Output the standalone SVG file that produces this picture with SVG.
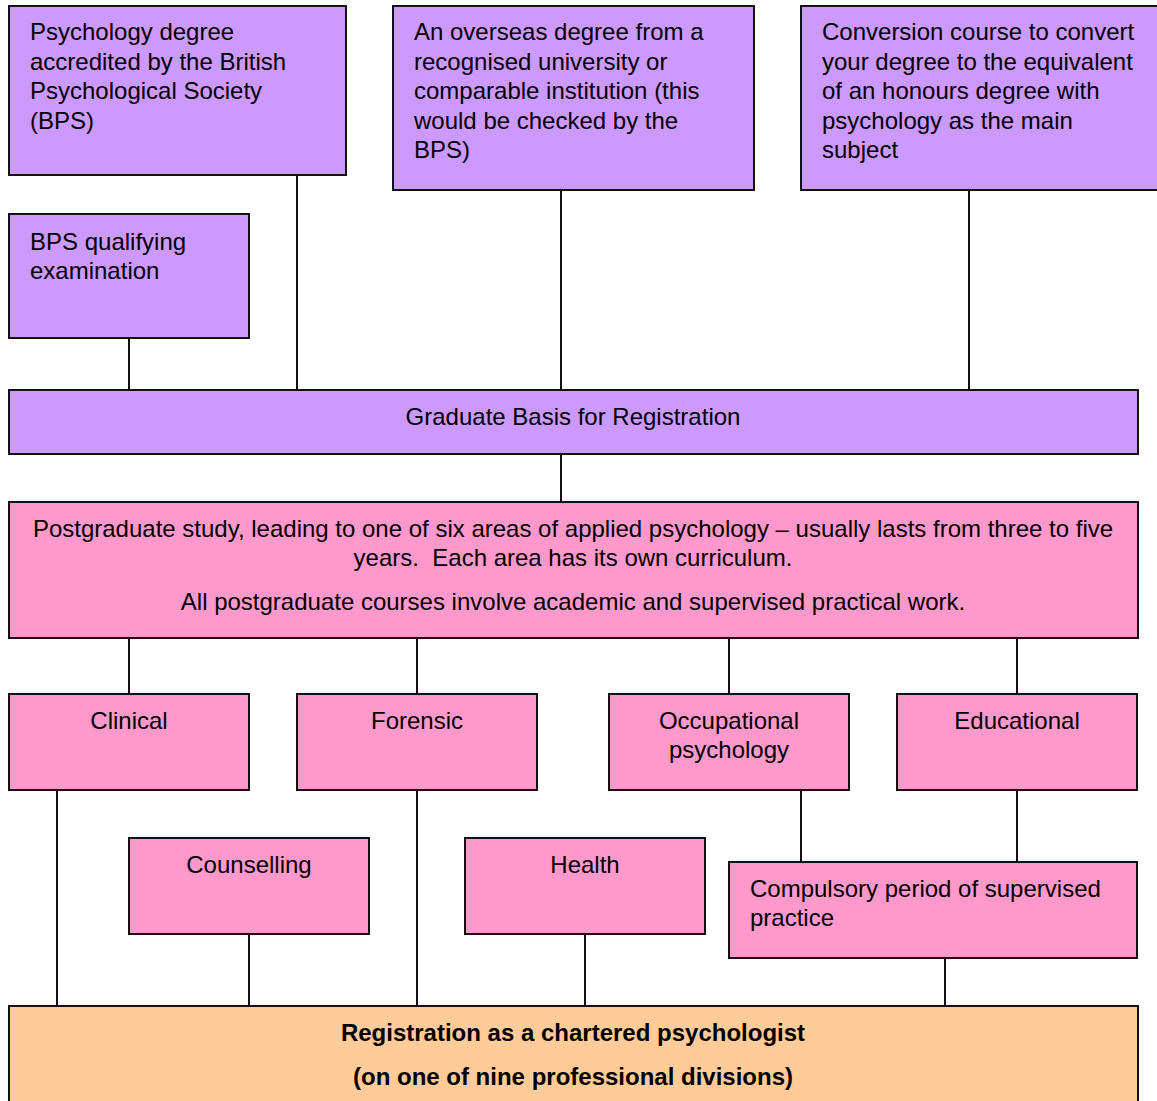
<svg xmlns="http://www.w3.org/2000/svg" width="1157" height="1101" viewBox="0 0 1157 1101">
<style>
rect{stroke:#111;stroke-width:2}
.p{fill:#CC99FF}
.k{fill:#FF99CC}
.o{fill:#FFCC99}
text{font-family:"Liberation Sans",Arial,sans-serif;font-size:24px;fill:#000}
.c{text-anchor:middle}
.b{font-weight:bold}
#connectors line{stroke:#111;stroke-width:2}
</style>
<rect width="1157" height="1101" fill="#fff" style="stroke:none"/>
<g id="connectors">
<line x1="129" y1="338" x2="129" y2="390"/>
<line x1="297" y1="175" x2="297" y2="390"/>
<line x1="561" y1="190" x2="561" y2="390"/>
<line x1="969" y1="190" x2="969" y2="390"/>
<line x1="561" y1="454" x2="561" y2="502"/>
<line x1="129" y1="638" x2="129" y2="694"/>
<line x1="417" y1="638" x2="417" y2="694"/>
<line x1="729" y1="638" x2="729" y2="694"/>
<line x1="1017" y1="638" x2="1017" y2="694"/>
<line x1="57" y1="790" x2="57" y2="1006"/>
<line x1="249" y1="934" x2="249" y2="1006"/>
<line x1="417" y1="790" x2="417" y2="1006"/>
<line x1="585" y1="934" x2="585" y2="1006"/>
<line x1="801" y1="790" x2="801" y2="862"/>
<line x1="1017" y1="790" x2="1017" y2="862"/>
<line x1="945" y1="958" x2="945" y2="1006"/>
</g>
<g id="n-psych-degree">
<rect class="p" x="9" y="6" width="337" height="169"/>
<text x="30" y="40">Psychology degree</text>
<text x="30" y="69.5">accredited by the British</text>
<text x="30" y="99">Psychological Society</text>
<text x="30" y="128.5">(BPS)</text>
</g>
<g id="n-overseas">
<rect class="p" x="393" y="6" width="361" height="184"/>
<text x="414" y="40">An overseas degree from a</text>
<text x="414" y="69.5">recognised university or</text>
<text x="414" y="99">comparable institution (this</text>
<text x="414" y="128.5">would be checked by the</text>
<text x="414" y="158">BPS)</text>
</g>
<g id="n-conversion">
<rect class="p" x="801" y="6" width="360" height="184"/>
<text x="822" y="40">Conversion course to convert</text>
<text x="822" y="69.5">your degree to the equivalent</text>
<text x="822" y="99">of an honours degree with</text>
<text x="822" y="128.5">psychology as the main</text>
<text x="822" y="158">subject</text>
</g>
<g id="n-bps-exam">
<rect class="p" x="9" y="214" width="240" height="124"/>
<text x="30" y="249.5">BPS qualifying</text>
<text x="30" y="278.5">examination</text>
</g>
<g id="n-gbr">
<rect class="p" x="9" y="390" width="1129" height="64"/>
<text class="c" x="573" y="425">Graduate Basis for Registration</text>
</g>
<g id="n-postgrad">
<rect class="k" x="9" y="502" width="1129" height="136"/>
<text class="c" x="573" y="537">Postgraduate study, leading to one of six areas of applied psychology – usually lasts from three to five</text>
<text class="c" x="573" y="566" xml:space="preserve">years.  Each area has its own curriculum.</text>
<text class="c" x="573" y="609.5">All postgraduate courses involve academic and supervised practical work.</text>
</g>
<g id="n-clinical">
<rect class="k" x="9" y="694" width="240" height="96"/>
<text class="c" x="129" y="729">Clinical</text>
</g>
<g id="n-forensic">
<rect class="k" x="297" y="694" width="240" height="96"/>
<text class="c" x="417" y="729">Forensic</text>
</g>
<g id="n-occupational">
<rect class="k" x="609" y="694" width="240" height="96"/>
<text class="c" x="729" y="729">Occupational</text>
<text class="c" x="729" y="758">psychology</text>
</g>
<g id="n-educational">
<rect class="k" x="897" y="694" width="240" height="96"/>
<text class="c" x="1017" y="729">Educational</text>
</g>
<g id="n-counselling">
<rect class="k" x="129" y="838" width="240" height="96"/>
<text class="c" x="249" y="873">Counselling</text>
</g>
<g id="n-health">
<rect class="k" x="465" y="838" width="240" height="96"/>
<text class="c" x="585" y="873">Health</text>
</g>
<g id="n-supervised">
<rect class="k" x="729" y="862" width="408" height="96"/>
<text x="750" y="897">Compulsory period of supervised</text>
<text x="750" y="926">practice</text>
</g>
<g id="n-registration">
<rect class="o" x="9" y="1006" width="1129" height="110"/>
<text class="c b" x="573" y="1041">Registration as a chartered psychologist</text>
<text class="c b" x="573" y="1085">(on one of nine professional divisions)</text>
</g>
</svg>
